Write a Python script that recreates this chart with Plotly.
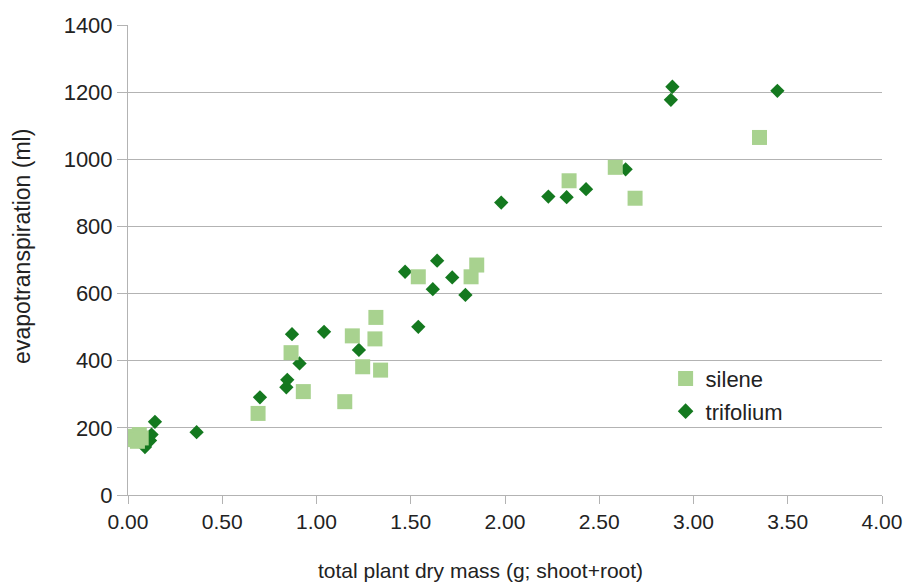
import plotly.graph_objects as go

silene_x = [0.03, 0.05, 0.06, 0.04, 0.07, 0.69, 0.865, 0.93, 1.15, 1.19, 1.245, 1.31, 1.315, 1.34,
            1.54, 1.82, 1.85, 2.34, 2.585, 2.69, 3.35]
silene_y = [175, 160, 180, 165, 170, 243, 424, 308, 278, 474, 382, 465, 529, 372,
            650, 650, 685, 936, 976, 884, 1065]

trif_x = [0.09, 0.10, 0.117, 0.125, 0.143, 0.364, 0.70, 0.84, 0.845, 0.87, 0.91, 1.04, 1.225,
          1.47, 1.54, 1.617, 1.64, 1.72, 1.79, 1.98, 2.23, 2.327, 2.43, 2.64, 2.88, 2.888, 3.445]
trif_y = [143, 160, 162, 180, 218, 187, 291, 321, 343, 479, 392, 486, 432,
          665, 501, 613, 698, 648, 596, 871, 889, 887, 911, 970, 1177, 1216, 1204]

x_ticks = [0, 0.5, 1, 1.5, 2, 2.5, 3, 3.5, 4]
x_tick_labels = ["0.00", "0.50", "1.00", "1.50", "2.00", "2.50", "3.00", "3.50", "4.00"]
y_ticks = [0, 200, 400, 600, 800, 1000, 1200, 1400]

x_title = "total plant dry mass (g; shoot+root)"
y_title = "evapotranspiration (ml)"

FONT = "Liberation Sans, Arial, sans-serif"

fig = go.Figure()
fig.add_trace(go.Scatter(x=trif_x, y=trif_y, mode="markers", name="trifolium",
                         marker=dict(symbol="diamond", size=11, color="#14791f"),
                         showlegend=False))
fig.add_trace(go.Scatter(x=silene_x, y=silene_y, mode="markers", name="silene",
                         legendgroup="a",
                         marker=dict(symbol="square", size=15, color="#a8d28f")))
fig.add_trace(go.Scatter(x=[None], y=[None], mode="markers", name="trifolium",
                         legendgroup="b",
                         marker=dict(symbol="diamond", size=12, color="#14791f")))

fig.update_layout(
    width=907, height=582,
    margin=dict(l=128, r=25, t=25, b=87, autoexpand=False),
    paper_bgcolor="white", plot_bgcolor="white",
    font=dict(family=FONT, color="#222222"),
    legend=dict(x=0.713, y=0.292, xanchor="left", yanchor="top",
                bgcolor="rgba(0,0,0,0)", font=dict(size=22, family=FONT),
                itemsizing="trace", tracegroupgap=1, traceorder="grouped"),
    xaxis=dict(range=[0, 4], tickvals=x_ticks, ticktext=x_tick_labels, automargin=False,
               showgrid=False, zeroline=False, showline=True, linecolor="#b3b3b3",
               ticks="outside", ticklen=8, tickcolor="#b3b3b3",
               ticklabeloverflow="allow", tickfont=dict(size=21)),
    yaxis=dict(range=[0, 1400], tickvals=y_ticks, automargin=False,
               showgrid=True, gridcolor="#b3b3b3", gridwidth=1,
               zeroline=False, showline=True, linecolor="#b3b3b3",
               ticks="outside", ticklen=10, tickcolor="#b3b3b3",
               tickfont=dict(size=22)),
    annotations=[
        dict(text=x_title, xref="paper", yref="paper", x=0.467, y=-0.16,
             xanchor="center", yanchor="middle", showarrow=False,
             font=dict(size=21, family=FONT, color="#222222")),
        dict(text=y_title, xref="paper", yref="paper", x=-0.1406, y=0.53,
             xanchor="center", yanchor="middle", showarrow=False, textangle=-90,
             font=dict(size=23, family=FONT, color="#222222")),
    ],
)
fig.write_html("out.html", config={"displayModeBar": False},
               post_script="document.body.style.margin='0px';document.body.style.overflow='hidden';")
